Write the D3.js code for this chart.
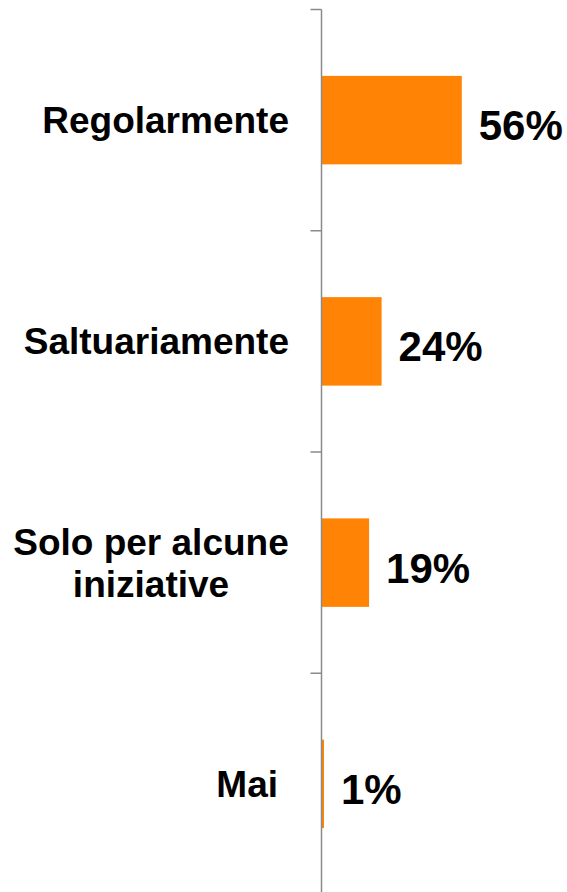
<!DOCTYPE html>
<html>
<head>
<meta charset="utf-8">
<script src="https://cdn.jsdelivr.net/npm/d3@7"></script>
<style>
  body { margin: 0; background: #fff; }
  text { font-family: Arial, "Liberation Sans", sans-serif; font-weight: bold; fill: #000; }
</style>
</head>
<body>
<script>
var svg_width  = 567;
var svg_height = 892;

// data
var categories = ["Regolarmente", "Saltuariamente", "Solo per alcune iniziative", "Mai"];
var labelLines = [["Regolarmente"], ["Saltuariamente"], ["Solo per alcune", "iniziative"], ["Mai"]];
var values     = [56, 24, 19, 1];

var svg = d3.select('body').append('svg')
            .attr('width', svg_width)
            .attr('height', svg_height);

var axisX = 321.5;

var x = d3.scaleLinear()
          .domain([0, 100])
          .range([axisX, axisX + 250.5]);

var y = d3.scaleBand()
          .domain(categories)
          .range([9.5, 894.5])
          .paddingInner(0.6)
          .paddingOuter(0.3);

// bars
svg.append("g")
   .selectAll("rect")
   .data(values)
   .enter().append("rect")
   .attr("x", x(0))
   .attr("y", (d, i) => y(categories[i]))
   .attr("width", d => x(d) - x(0))
   .attr("height", y.bandwidth())
   .attr("fill", "#ff8405");

// axis line + ticks at band boundaries
var bounds = d3.range(categories.length + 1).map(i => 9.5 + i * y.step());
var axis = svg.append("g").attr("stroke", "#8a8a8a").attr("stroke-width", 1.5);
axis.append("line")
    .attr("x1", axisX).attr("x2", axisX)
    .attr("y1", bounds[0]).attr("y2", bounds[bounds.length - 1]);
axis.selectAll(".tick")
    .data(bounds)
    .enter().append("line")
    .attr("x1", axisX - 11).attr("x2", axisX)
    .attr("y1", d => d).attr("y2", d => d);

// category labels
var lineH = 42;
svg.append("g")
   .selectAll("text")
   .data(labelLines)
   .enter().append("text")
   .attr("font-size", 37)
   .each(function(lines, i) {
       var cy = y(categories[i]) + y.bandwidth() / 2;
       var t = d3.select(this);
       if (lines.length == 1) {
           //single line: right aligned next to the axis
           t.attr("text-anchor", "end")
            .attr("x", categories[i] == "Mai" ? 278 : 289)
            .attr("y", cy + 13)
            .text(lines[0]);
       } else {
           //wrapped label: centred block
           var top = cy + 13 - (lines.length - 1) * lineH / 2;
           t.attr("text-anchor", "middle");
           lines.forEach(function(l, j) {
               t.append("tspan")
                .attr("x", 151)
                .attr("y", top + j * lineH)
                .text(l);
           });
       }
   });

// value labels
svg.append("g")
   .selectAll("text")
   .data(values)
   .enter().append("text")
   .attr("font-size", 42)
   .attr("x", d => x(d) + 17)
   .attr("y", (d, i) => y(categories[i]) + y.bandwidth() / 2 + 20)
   .text(d => d + "%");
</script>
</body>
</html>
